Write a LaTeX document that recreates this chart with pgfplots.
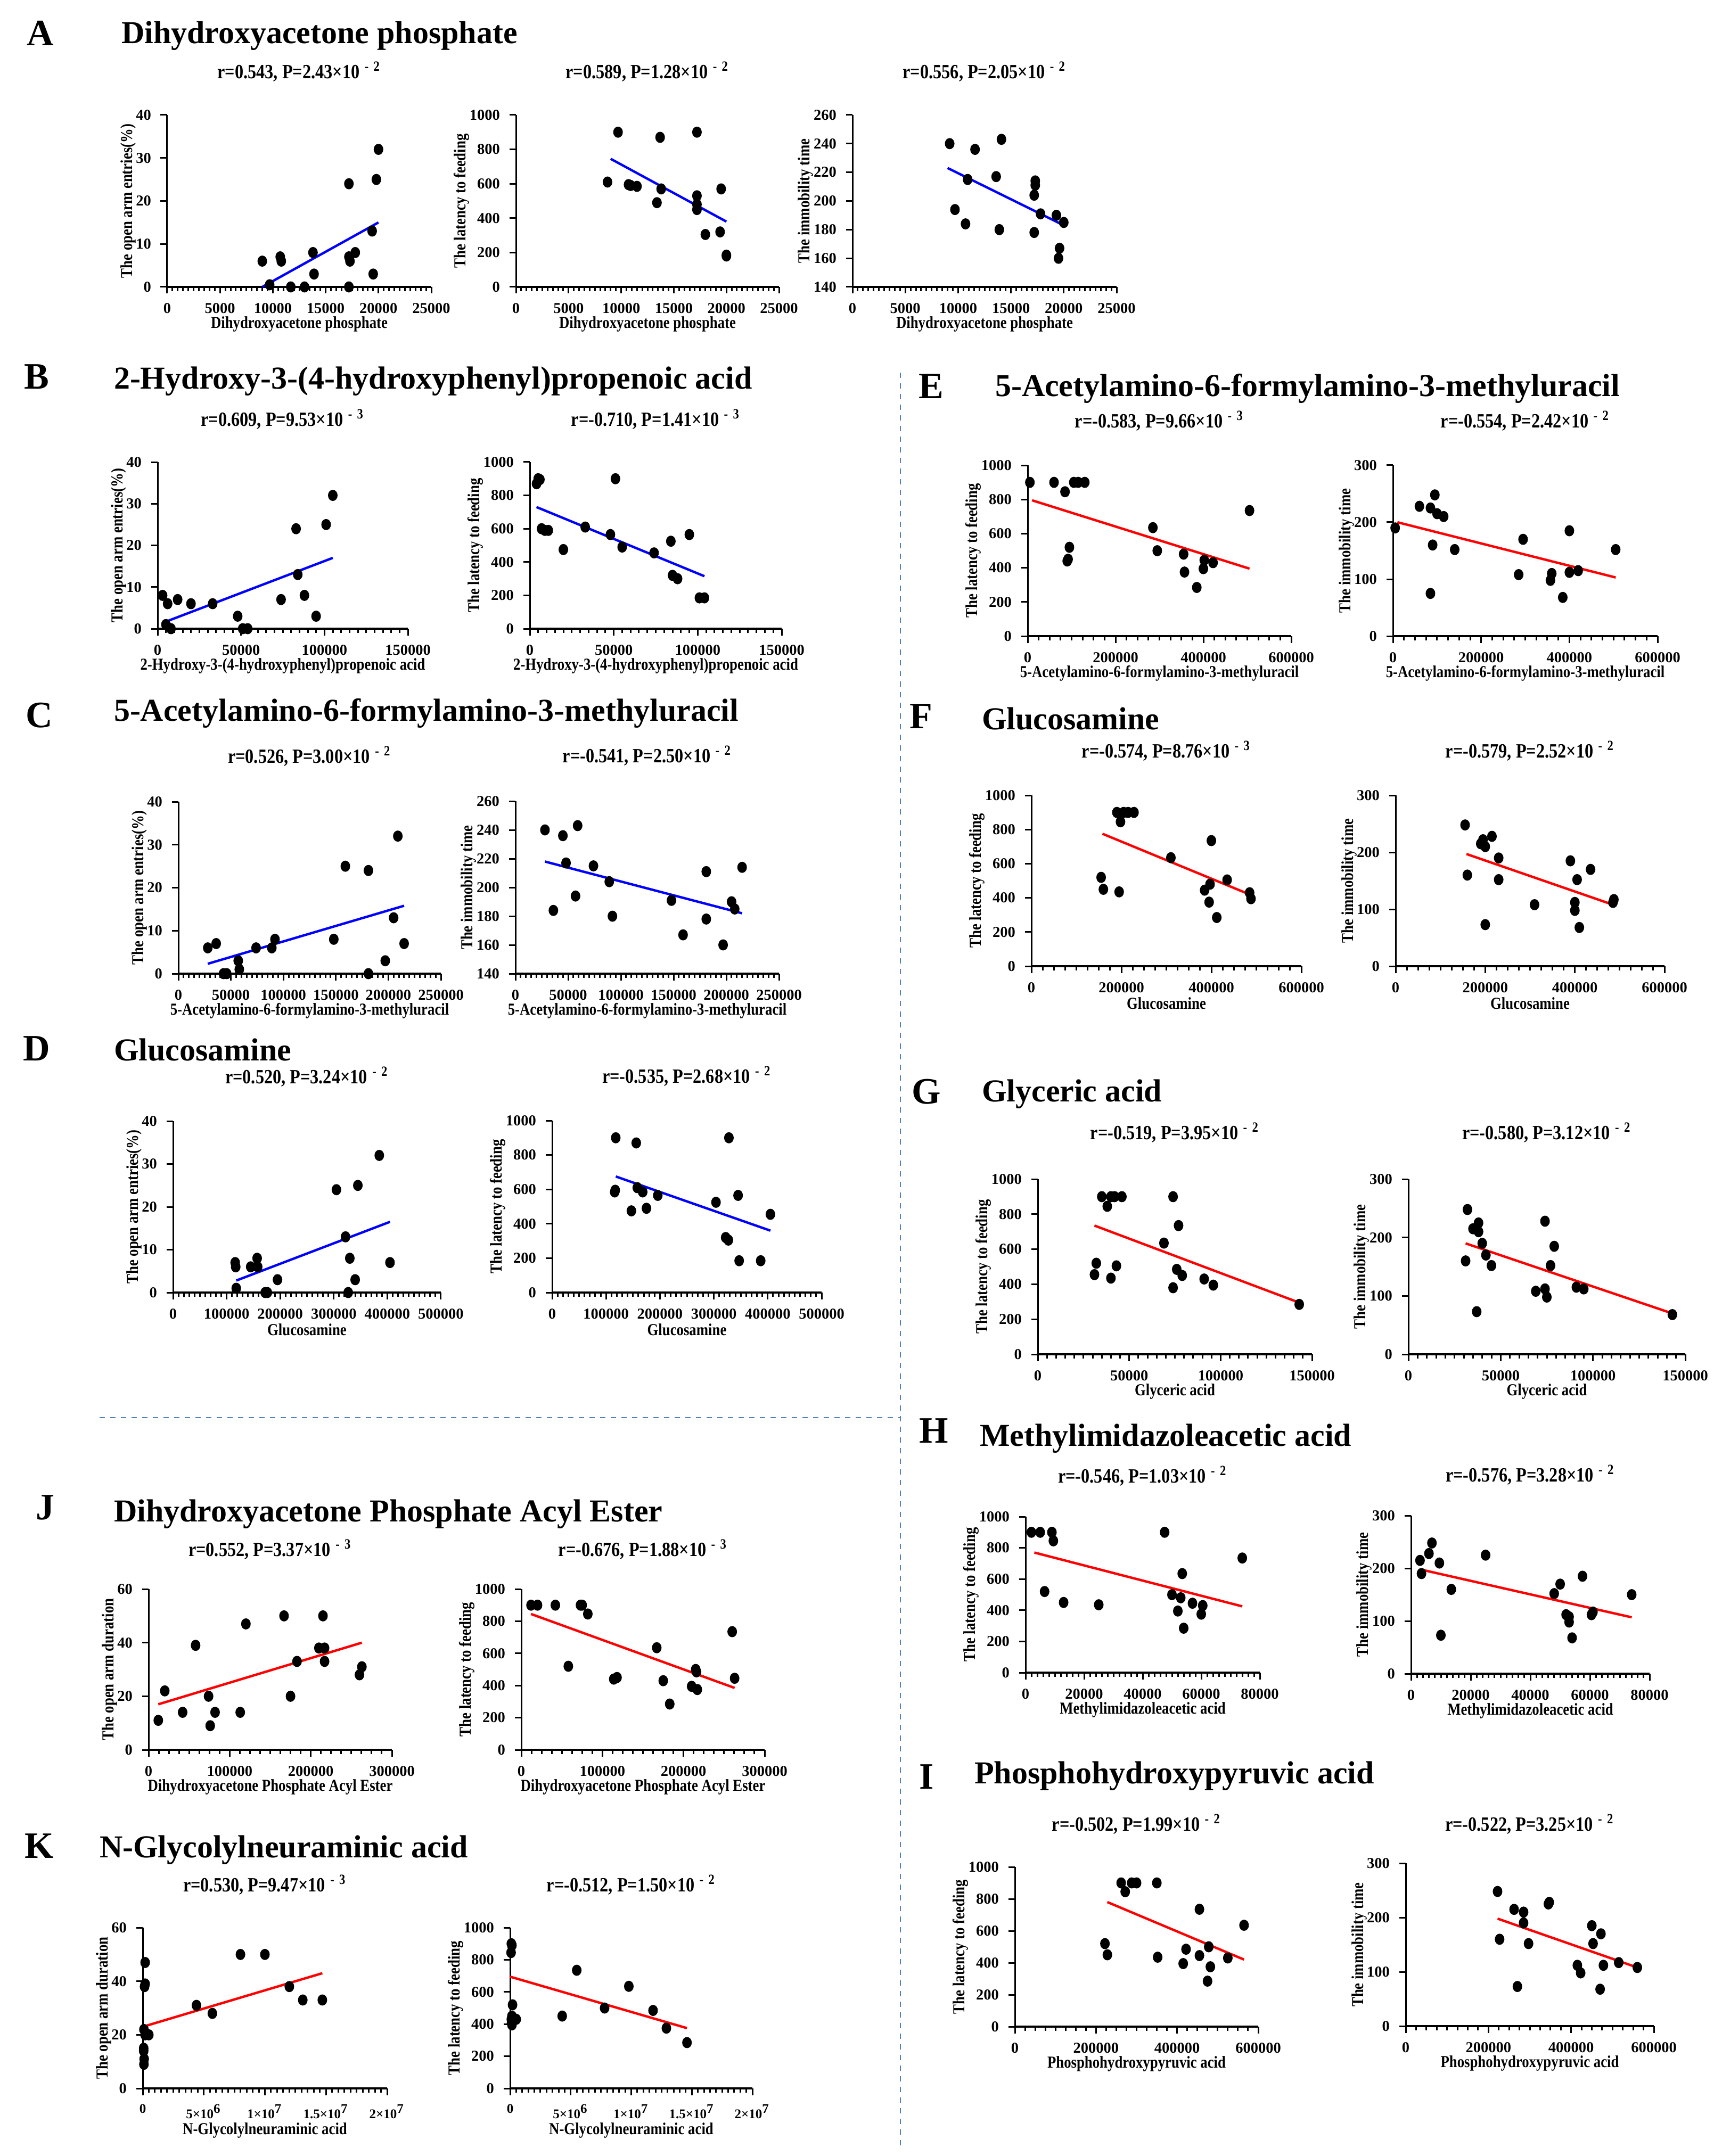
\documentclass[border=0pt]{standalone}
\usepackage{fontspec}
\setmainfont{Liberation Serif}
\newfontfamily\narrow{Liberation Serif}[FakeStretch=0.85]
\usepackage{pgfplots}
\pgfplotsset{compat=1.18}

\newcommand\tickf{\fontsize{5.7}{6}\selectfont\bfseries}
\newcommand\smtickf{\fontsize{5}{5.5}\selectfont\bfseries}
\newcommand\labf{\narrow\fontsize{6.3}{7}\selectfont\bfseries}
\newcommand\rtf{\narrow\fontsize{7.6}{8}\selectfont\bfseries}
\newcommand\rp[3]{r=#1, P=#2×10\textsuperscript{\hspace{0.35em}-\hspace{0.35em}#3}}
\newcommand\letter[2]{\node[font=\fontsize{14}{16}\selectfont\bfseries] at #1 {#2};}
\newcommand\ptitle[2]{\node[anchor=west, font=\fontsize{12}{14}\selectfont\bfseries, inner sep=0pt] at #1 {#2};}

\definecolor{sepblue}{RGB}{79,129,189}

\pgfplotsset{
  sc/.style={
    scale only axis, clip=false, anchor=south west,
    axis lines=left, axis line style={-, line width=0.6pt},
    x axis line style={line width=0.9pt},
    enlargelimits=false,
    every tick/.style={black, line width=0.6pt},
    major tick length=2.5pt, minor tick length=1.6pt,
    tick align=outside,
    ticklabel style={font=\tickf},
    /pgf/number format/assume math mode=true,
    /pgf/number format/fixed,
    /pgf/number format/1000 sep={},
    scaled x ticks=false, scaled y ticks=false,
    xlabel style={font=\labf, at={(axis description cs:0.5,0)}, anchor=center, yshift=-14pt},
    ylabel style={font=\labf},
    ylabel shift=-6.8pt,
    title style={font=\rtf, at={(axis description cs:0.5,1)}, anchor=center},
  },
  ttl/.style={title style={yshift=#1}},
  dots/.style={only marks, mark=*, mark size=1.6pt, mark options={fill=black, draw=black, yscale=1.18}},
  fitb/.style={blue, line width=0.9pt, no marks},
  fitr/.style={red, line width=0.9pt, no marks},
}

\begin{document}
\begin{tikzpicture}
\path[use as bounding box] (0,0) rectangle (646.8pt,-810pt);

% separators
\draw[sepblue, line width=0.5pt, dash pattern=on 2pt off 2pt] (338.2pt,-140pt) -- (338.2pt,-808pt);
\draw[sepblue, line width=0.5pt, dash pattern=on 2pt off 2pt] (37.4pt,-532.6pt) -- (338.2pt,-532.6pt);

% panel letters and titles
\letter{(15.2pt,-12.4pt)}{A}
\ptitle{(45.4pt,-13.4pt)}{Dihydroxyacetone phosphate}
\letter{(13.8pt,-141.6pt)}{B}
\ptitle{(42.6pt,-143.2pt)}{2-Hydroxy-3-(4-hydroxyphenyl)propenoic acid}
\letter{(14.8pt,-268.8pt)}{C}
\ptitle{(42.6pt,-268pt)}{5-Acetylamino-6-formylamino-3-methyluracil}
\letter{(13.8pt,-394pt)}{D}
\ptitle{(42.6pt,-394.4pt)}{Glucosamine}
\letter{(349.8pt,-145.2pt)}{E}
\ptitle{(373.6pt,-146pt)}{5-Acetylamino-6-formylamino-3-methyluracil}
\letter{(346pt,-269.2pt)}{F}
\ptitle{(368.6pt,-270pt)}{Glucosamine}
\letter{(348pt,-410.2pt)}{G}
\ptitle{(368.6pt,-411pt)}{Glyceric acid}
\letter{(350.8pt,-537.6pt)}{H}
\ptitle{(367.8pt,-540.4pt)}{Methylimidazoleacetic acid}
\letter{(348pt,-667.6pt)}{I}
\ptitle{(365.8pt,-667.2pt)}{Phosphohydroxypyruvic acid}
\letter{(17pt,-566.4pt)}{J}
\ptitle{(42.6pt,-568.8pt)}{Dihydroxyacetone Phosphate Acyl Ester}
\letter{(14.8pt,-693.6pt)}{K}
\ptitle{(37.2pt,-695pt)}{N-Glycolylneuraminic acid}

% ---------------- A ----------------
\begin{axis}[sc, at={(62.8pt,-107.8pt)}, width=99.2pt, height=64.6pt,
  xmin=0, xmax=25000, xtick={0,5000,...,25000}, minor x tick num=9,
  ymin=0, ymax=40, ytick={0,10,...,40},
  title={\rp{0.543}{2.43}{2}}, ttl=10.2pt,
  xlabel={Dihydroxyacetone phosphate}, ylabel={The open arm entries(\%)}]
\addplot[dots] coordinates {(9000,6) (9700,0.5) (10700,7) (10800,6) (11700,0) (13000,0) (13800,8) (13900,3) (17200,24) (17200,7) (17300,6) (17200,0) (17800,8) (19400,13) (19500,3) (19800,25) (20000,32)};
\addplot[fitb] coordinates {(9000,0) (20000,15)};
\end{axis}

\begin{axis}[sc, at={(193.8pt,-107.8pt)}, width=98.8pt, height=64.6pt,
  xmin=0, xmax=25000, xtick={0,5000,...,25000}, minor x tick num=9,
  ymin=0, ymax=1000, ytick={0,200,...,1000},
  title={\rp{0.589}{1.28}{2}}, ttl=10.2pt,
  xlabel={Dihydroxyacetone phosphate}, ylabel={The latency to feeding}]
\addplot[dots] coordinates {(8700,610) (9700,900) (10700,595) (10900,590) (11500,585) (13400,490) (13700,870) (13800,570) (17200,900) (17200,530) (17200,480) (17200,450) (18000,305) (19400,320) (19500,570) (20000,185) (20000,180)};
\addplot[fitb] coordinates {(9000,745) (20000,380)};
\end{axis}

\begin{axis}[sc, at={(320.2pt,-107.8pt)}, width=99.2pt, height=64.6pt,
  xmin=0, xmax=25000, xtick={0,5000,...,25000}, minor x tick num=9,
  ymin=140, ymax=260, ytick={140,160,...,260},
  title={\rp{0.556}{2.05}{2}}, ttl=10.2pt,
  xlabel={Dihydroxyacetone phosphate}, ylabel={The immobility time}]
\addplot[dots] coordinates {(9200,240) (9700,194) (10700,184) (10900,215) (11600,236) (13600,217) (13900,180) (14100,243) (17200,178) (17300,214) (17300,211) (17200,204) (17800,191) (19300,190) (19500,160) (19600,167) (20000,185)};
\addplot[fitb] coordinates {(9000,223) (20000,183)};
\end{axis}

% ---------------- B ----------------
\begin{axis}[sc, at={(59.2pt,-236.2pt)}, width=94pt, height=62.6pt,
  xmin=0, xmax=150000, xtick={0,50000,...,150000}, minor x tick num=9,
  ymin=0, ymax=40, ytick={0,10,...,40},
  title={\rp{0.609}{9.53}{3}}, ttl=10pt,
  xlabel={2-Hydroxy-3-(4-hydroxyphenyl)propenoic acid}, ylabel={The open arm entries(\%)}]
\addplot[dots] coordinates {(3000,8) (5000,1) (6000,6) (8000,0) (12000,7) (20000,6) (33000,6) (48000,3) (51000,0) (54000,0) (74000,7) (83000,24) (84000,13) (88000,8) (95000,3) (101000,25) (105000,32)};
\addplot[fitb] coordinates {(5000,1.7) (105000,17)};
\end{axis}

\begin{axis}[sc, at={(199pt,-236.2pt)}, width=94.6pt, height=62.6pt,
  xmin=0, xmax=150000, xtick={0,50000,...,150000}, minor x tick num=9,
  ymin=0, ymax=1000, ytick={0,200,...,1000},
  title={\rp{-0.710}{1.41}{3}}, ttl=10pt,
  xlabel={2-Hydroxy-3-(4-hydroxyphenyl)propenoic acid}, ylabel={The latency to feeding}]
\addplot[dots] coordinates {(4000,870) (5000,900) (6000,895) (7000,600) (9000,590) (11000,590) (20000,475) (33000,610) (48000,565) (51000,900) (55000,490) (74000,455) (84000,525) (85000,320) (88000,300) (95000,565) (101000,185) (104000,185)};
\addplot[fitb] coordinates {(4000,730) (104000,315)};
\end{axis}

% ---------------- C ----------------
\begin{axis}[sc, at={(67pt,-365.8pt)}, width=98.6pt, height=64.6pt,
  xmin=0, xmax=250000, xtick={0,50000,...,250000}, minor x tick num=9,
  ymin=0, ymax=40, ytick={0,10,...,40},
  title={\rp{0.526}{3.00}{2}}, ttl=11pt,
  xlabel={5-Acetylamino-6-formylamino-3-methyluracil}, ylabel={The open arm entries(\%)}]
\addplot[dots] coordinates {(28000,6) (36000,7) (43000,0) (46000,0) (57000,3) (58000,1) (74000,6) (89000,6) (92000,8) (148000,8) (159000,25) (181000,24) (181000,0) (197000,3) (205000,13) (209000,32) (215000,7)};
\addplot[fitb] coordinates {(28000,2.3) (215000,15.8)};
\end{axis}

\begin{axis}[sc, at={(193.6pt,-365.8pt)}, width=99pt, height=64.8pt,
  xmin=0, xmax=250000, xtick={0,50000,...,250000}, minor x tick num=9,
  ymin=140, ymax=260, ytick={140,160,...,260},
  title={\rp{-0.541}{2.50}{2}}, ttl=11pt,
  xlabel={5-Acetylamino-6-formylamino-3-methyluracil}, ylabel={The immobility time}]
\addplot[dots] coordinates {(28000,240) (36000,184) (45000,236) (48000,217) (57000,194) (59000,243) (74000,215) (89000,204) (92000,180) (148000,191) (159000,167) (181000,211) (181000,178) (197000,160) (205000,190) (208000,185) (215000,214)};
\addplot[fitb] coordinates {(28000,218) (215000,182)};
\end{axis}

% ---------------- D ----------------
\begin{axis}[sc, at={(65pt,-485.6pt)}, width=100.6pt, height=64.4pt,
  xmin=0, xmax=500000, xtick={0,100000,...,500000}, minor x tick num=9,
  ymin=0, ymax=40, ytick={0,10,...,40},
  title={\rp{0.520}{3.24}{2}}, ttl=10.6pt,
  xlabel={Glucosamine}, ylabel={The open arm entries(\%)}]
\addplot[dots] coordinates {(116000,7) (117000,6) (118000,1) (145000,6) (157000,8) (158000,6) (172000,0) (176000,0) (195000,3) (305000,24) (322000,13) (327000,0) (330000,8) (340000,3) (345000,25) (385000,32) (405000,7)};
\addplot[fitb] coordinates {(118000,2.8) (405000,16.5)};
\end{axis}

\begin{axis}[sc, at={(207.4pt,-485.6pt)}, width=101.2pt, height=64.6pt,
  xmin=0, xmax=500000, xtick={0,100000,...,500000}, minor x tick num=9,
  ymin=0, ymax=1000, ytick={0,200,...,1000},
  title={\rp{-0.535}{2.68}{2}}, ttl=10.6pt,
  xlabel={Glucosamine}, ylabel={The latency to feeding}]
\addplot[dots] coordinates {(116000,585) (117000,595) (118000,900) (147000,475) (156000,870) (158000,610) (168000,585) (175000,490) (196000,565) (304000,525) (322000,320) (327000,305) (328000,900) (345000,565) (347000,185) (387000,185) (405000,455)};
\addplot[fitb] coordinates {(118000,675) (405000,360)};
\end{axis}

% ---------------- E ----------------
\begin{axis}[sc, at={(386pt,-239pt)}, width=99pt, height=64.2pt,
  xmin=0, xmax=600000, xtick={0,200000,...,600000}, minor x tick num=7,
  ymin=0, ymax=1000, ytick={0,200,...,1000},
  title={\rp{-0.583}{9.66}{3}}, ttl=10.6pt,
  xlabel={5-Acetylamino-6-formylamino-3-methyluracil}, ylabel={The latency to feeding}]
\addplot[dots] coordinates {(5000,900) (60000,900) (85000,845) (90000,440) (92000,450) (95000,520) (105000,900) (115000,900) (130000,900) (285000,635) (295000,500) (355000,480) (357000,375) (385000,285) (400000,395) (402000,445) (422000,430) (505000,735)};
\addplot[fitr] coordinates {(10000,795) (505000,395)};
\end{axis}

\begin{axis}[sc, at={(523.2pt,-239pt)}, width=99.4pt, height=64.2pt,
  xmin=0, xmax=600000, xtick={0,200000,...,600000}, minor x tick num=7,
  ymin=0, ymax=300, ytick={0,100,...,300},
  title={\rp{-0.554}{2.42}{2}}, ttl=10.6pt,
  xlabel={5-Acetylamino-6-formylamino-3-methyluracil}, ylabel={The immobility time}]
\addplot[dots] coordinates {(5000,190) (60000,228) (85000,75) (85000,225) (90000,160) (95000,248) (100000,215) (115000,210) (140000,152) (285000,108) (295000,170) (357000,98) (360000,110) (385000,68) (400000,112) (400000,185) (420000,115) (505000,152)};
\addplot[fitr] coordinates {(10000,200) (505000,103)};
\end{axis}

% ---------------- F ----------------
\begin{axis}[sc, at={(387.4pt,-363pt)}, width=101.4pt, height=64.2pt,
  xmin=0, xmax=600000, xtick={0,200000,...,600000}, minor x tick num=7,
  ymin=0, ymax=1000, ytick={0,200,...,1000},
  title={\rp{-0.574}{8.76}{3}}, ttl=10.6pt,
  xlabel={Glucosamine}, ylabel={The latency to feeding}]
\addplot[dots] coordinates {(155000,520) (160000,450) (195000,435) (198000,845) (190000,900) (205000,900) (215000,900) (228000,900) (310000,635) (385000,445) (395000,375) (397000,480) (412000,285) (435000,505) (485000,430) (488000,395) (400000,735)};
\addplot[fitr] coordinates {(158000,775) (485000,420)};
\end{axis}

\begin{axis}[sc, at={(524.2pt,-363pt)}, width=101pt, height=64.2pt,
  xmin=0, xmax=600000, xtick={0,200000,...,600000}, minor x tick num=7,
  ymin=0, ymax=300, ytick={0,100,...,300},
  title={\rp{-0.579}{2.52}{2}}, ttl=10.6pt,
  xlabel={Glucosamine}, ylabel={The immobility time}]
\addplot[dots] coordinates {(155000,248) (160000,160) (190000,215) (195000,222) (200000,210) (200000,73) (215000,228) (230000,190) (230000,152) (310000,108) (390000,185) (400000,112) (400000,98) (405000,152) (410000,68) (435000,170) (485000,112) (487000,117)};
\addplot[fitr] coordinates {(158000,197) (485000,108)};
\end{axis}

% ---------------- G ----------------
\begin{axis}[sc, at={(389.8pt,-508.8pt)}, width=103pt, height=65.8pt,
  xmin=0, xmax=150000, xtick={0,50000,...,150000}, minor x tick num=9,
  ymin=0, ymax=1000, ytick={0,200,...,1000},
  title={\rp{-0.519}{3.95}{2}}, ttl=11.4pt,
  xlabel={Glyceric acid}, ylabel={The latency to feeding}]
\addplot[dots] coordinates {(31000,455) (32000,520) (35000,900) (38000,845) (40000,900) (40000,435) (42000,900) (43000,505) (46000,900) (69000,635) (74000,900) (74000,380) (76000,485) (77000,735) (79000,450) (91000,430) (96000,395) (143000,285)};
\addplot[fitr] coordinates {(31000,735) (143000,295)};
\end{axis}

\begin{axis}[sc, at={(529pt,-508.8pt)}, width=104pt, height=65.8pt,
  xmin=0, xmax=150000, xtick={0,50000,...,150000}, minor x tick num=9,
  ymin=0, ymax=300, ytick={0,100,...,300},
  title={\rp{-0.580}{3.12}{2}}, ttl=11.4pt,
  xlabel={Glyceric acid}, ylabel={The immobility time}]
\addplot[dots] coordinates {(31000,160) (32000,248) (35000,215) (37000,73) (38000,210) (38000,225) (40000,190) (42000,170) (45000,152) (69000,108) (74000,228) (74000,112) (75000,98) (77000,152) (79000,185) (91000,115) (95000,112) (143000,68)};
\addplot[fitr] coordinates {(31000,190) (143000,70)};
\end{axis}

% ---------------- H ----------------
\begin{axis}[sc, at={(385.2pt,-628.4pt)}, width=88pt, height=58.6pt,
  xmin=0, xmax=80000, xtick={0,20000,...,80000}, minor x tick num=9,
  ymin=0, ymax=1000, ytick={0,200,...,1000},
  title={\rp{-0.546}{1.03}{2}}, ttl=9.2pt,
  xlabel={Methylimidazoleacetic acid}, ylabel={The latency to feeding}]
\addplot[dots] coordinates {(2000,900) (5000,900) (6500,520) (9000,900) (9500,845) (13000,450) (25000,435) (47500,900) (50000,500) (52000,395) (53000,480) (53500,635) (54000,285) (57000,445) (60000,375) (60500,430) (74000,735)};
\addplot[fitr] coordinates {(3000,770) (74000,425)};
\end{axis}

\begin{axis}[sc, at={(530pt,-628.8pt)}, width=89.6pt, height=59.4pt,
  xmin=0, xmax=80000, xtick={0,20000,...,80000}, minor x tick num=9,
  ymin=0, ymax=300, ytick={0,100,...,300},
  title={\rp{-0.576}{3.28}{2}}, ttl=9.2pt,
  xlabel={Methylimidazoleacetic acid}, ylabel={The immobility time}]
\addplot[dots] coordinates {(3000,215) (3500,190) (6000,228) (7000,248) (9500,210) (10000,73) (13500,160) (25000,225) (48000,152) (50000,170) (52000,112) (53000,108) (53000,98) (54000,68) (57500,185) (60500,112) (61000,117) (74000,150)};
\addplot[fitr] coordinates {(3000,198) (74000,107)};
\end{axis}

% ---------------- I ----------------
\begin{axis}[sc, at={(381.2pt,-761.4pt)}, width=91.4pt, height=60pt,
  xmin=0, xmax=600000, xtick={0,200000,...,600000}, minor x tick num=7,
  ymin=0, ymax=1000, ytick={0,200,...,1000},
  title={\rp{-0.502}{1.99}{2}}, ttl=10pt,
  xlabel={Phosphohydroxypyruvic acid}, ylabel={The latency to feeding}]
\addplot[dots] coordinates {(222000,520) (228000,450) (262000,900) (272000,845) (288000,900) (300000,900) (350000,900) (352000,435) (415000,395) (422000,485) (455000,445) (455000,735) (475000,285) (478000,500) (482000,375) (525000,430) (565000,635)};
\addplot[fitr] coordinates {(228000,780) (565000,420)};
\end{axis}

\begin{axis}[sc, at={(528pt,-761.2pt)}, width=93.2pt, height=61.2pt,
  xmin=0, xmax=600000, xtick={0,200000,...,600000}, minor x tick num=7,
  ymin=0, ymax=300, ytick={0,100,...,300},
  title={\rp{-0.522}{3.25}{2}}, ttl=8.6pt,
  xlabel={Phosphohydroxypyruvic acid}, ylabel={The immobility time}]
\addplot[dots] coordinates {(222000,248) (227000,160) (262000,215) (270000,73) (285000,210) (285000,190) (297000,152) (345000,225) (347000,228) (415000,112) (423000,98) (450000,185) (453000,152) (470000,68) (472000,170) (478000,112) (515000,117) (560000,108)};
\addplot[fitr] coordinates {(222000,198) (560000,108)};
\end{axis}

% ---------------- J ----------------
\begin{axis}[sc, at={(55.8pt,-657.4pt)}, width=91.4pt, height=60.4pt,
  xmin=0, xmax=300000, xtick={0,100000,...,300000}, minor x tick num=7,
  ymin=0, ymax=60, ytick={0,20,...,60},
  title={\rp{0.552}{3.37}{3}}, ttl=8.8pt,
  xlabel={Dihydroxyacetone Phosphate Acyl Ester}, ylabel={The open arm duration}]
\addplot[dots] coordinates {(12000,11) (20000,22) (42000,14) (58000,39) (74000,20) (76000,9) (82000,14) (113000,14) (120000,47) (167000,50) (175000,20) (183000,33) (210000,38) (215000,50) (217000,38) (217000,33) (260000,28) (263000,31)};
\addplot[fitr] coordinates {(12000,17) (263000,40)};
\end{axis}

\begin{axis}[sc, at={(195.8pt,-657.4pt)}, width=91.4pt, height=60.4pt,
  xmin=0, xmax=300000, xtick={0,100000,...,300000}, minor x tick num=7,
  ymin=0, ymax=1000, ytick={0,200,...,1000},
  title={\rp{-0.676}{1.88}{3}}, ttl=8.8pt,
  xlabel={Dihydroxyacetone Phosphate Acyl Ester}, ylabel={The latency to feeding}]
\addplot[dots] coordinates {(12000,900) (20000,900) (42000,900) (73000,900) (75000,900) (82000,845) (58000,520) (114000,440) (118000,450) (167000,635) (175000,430) (183000,285) (210000,395) (215000,500) (216000,485) (217000,375) (260000,735) (263000,445)};
\addplot[fitr] coordinates {(12000,845) (263000,385)};
\end{axis}

% ---------------- K ----------------
\begin{axis}[sc, at={(53.6pt,-784.6pt)}, width=91.8pt, height=60.4pt,
  xmin=0, xmax=20000000, xtick={0,5000000,10000000,15000000,20000000},
  xticklabels={0,5×10\textsuperscript{6},1×10\textsuperscript{7},1.5×10\textsuperscript{7},2×10\textsuperscript{7}},
  xticklabel style={font=\smtickf},
  minor x tick num=9,
  ymin=0, ymax=60, ytick={0,20,...,60},
  title={\rp{0.530}{9.47}{3}}, ttl=10pt,
  xlabel={N-Glycolylneuraminic acid}, xlabel style={yshift=-1.8pt}, ylabel={The open arm duration}]
\addplot[dots] coordinates {(100000,9) (120000,11) (80000,14) (80000,15) (200000,47) (150000,38) (200000,39) (100000,22) (200000,20) (500000,20) (4400000,31) (5700000,28) (8000000,50) (10000000,50) (12000000,38) (13100000,33) (14700000,33)};
\addplot[fitr] coordinates {(0,23) (14700000,43)};
\end{axis}

\begin{axis}[sc, at={(191.6pt,-784.6pt)}, width=91pt, height=60.4pt,
  xmin=0, xmax=20000000, xtick={0,5000000,10000000,15000000,20000000},
  xticklabels={0,5×10\textsuperscript{6},1×10\textsuperscript{7},1.5×10\textsuperscript{7},2×10\textsuperscript{7}},
  xticklabel style={font=\smtickf},
  minor x tick num=9,
  ymin=0, ymax=1000, ytick={0,200,...,1000},
  title={\rp{-0.512}{1.50}{2}}, ttl=10pt,
  xlabel={N-Glycolylneuraminic acid}, xlabel style={yshift=-1.8pt}, ylabel={The latency to feeding}]
\addplot[dots] coordinates {(100000,900) (150000,890) (80000,845) (200000,520) (150000,450) (100000,430) (150000,395) (500000,430) (120000,410) (4300000,450) (5500000,735) (7800000,500) (9800000,635) (11800000,485) (12900000,375) (14600000,285)};
\addplot[fitr] coordinates {(0,695) (14600000,375)};
\end{axis}

\end{tikzpicture}
\end{document}
